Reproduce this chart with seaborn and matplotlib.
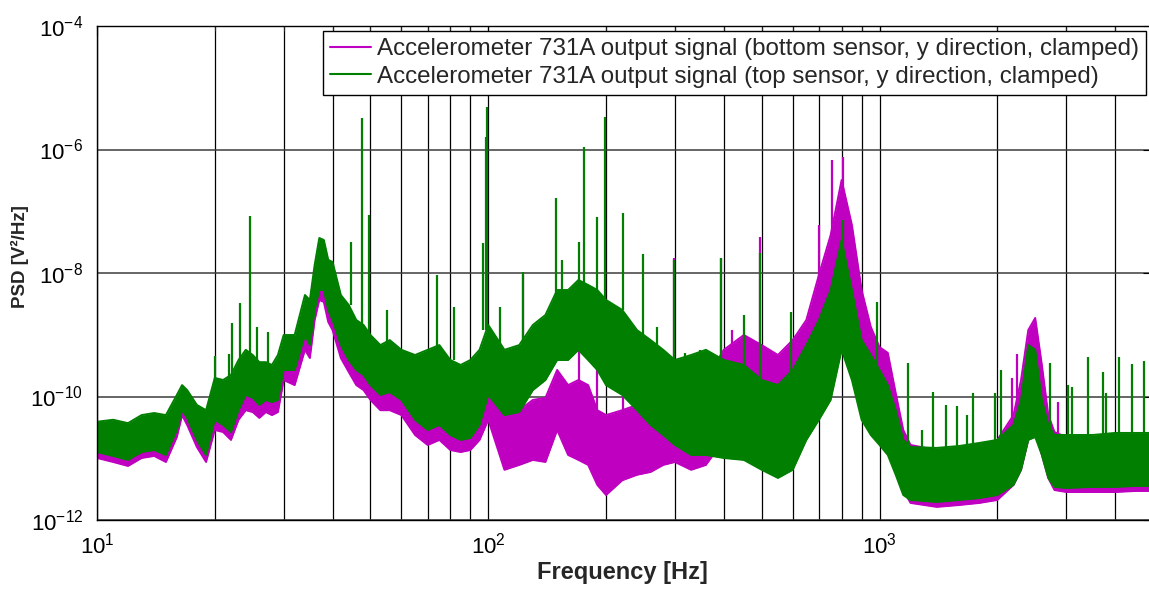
import numpy as np
import pandas as pd
import matplotlib
matplotlib.use("Agg")
import matplotlib.pyplot as plt
import seaborn as sns
from matplotlib.ticker import (FixedLocator, LogLocator, NullLocator,
                               NullFormatter, LogFormatterMathtext)
from matplotlib.lines import Line2D

# ---------------- data ----------------
FREQ = [10, 11, 12, 13, 14, 15, 16, 16.5, 17, 18, 19,
        20, 21, 22, 23, 24, 25, 26, 27, 28, 29, 30,
        32, 34, 35, 36, 37, 38, 39, 40,
        42, 44, 46, 48, 50,
        53, 56, 60, 65, 70, 75, 80, 85, 90, 95, 100,
        110, 120, 130, 140, 150, 160, 170, 180, 190, 200,
        220, 240, 260, 280, 300,
        330, 360, 400, 450, 500, 550, 600, 650, 700, 750, 800, 850, 900, 950, 1000,
        1050, 1100, 1150, 1200, 1400, 1600, 1800, 2000,
        2200, 2300, 2400, 2500, 2600, 2700, 2800,
        3000, 3500, 4000, 4500, 5000]

# top sensor (green): upper / lower edge of the noise band
GREEN_HI = [3.9e-11, 4.2e-11, 3.7e-11, 5.0e-11, 5.4e-11, 5.0e-11, 1.06e-10, 1.53e-10, 1.27e-10, 7.3e-11, 6.0e-11,
            2.0e-10, 1.85e-10, 2.23e-10, 3.9e-10, 5.7e-10, 4.7e-10, 3.6e-10, 3.6e-10, 3.24e-10, 4.7e-10, 9.9e-10,
            9.9e-10, 4.4e-9, 3.66e-9, 1.35e-8, 3.69e-8, 3.42e-8, 1.63e-8, 1.51e-8,
            4.4e-9, 3.03e-9, 1.73e-9, 1.44e-9, 9.9e-10,
            6.8e-10, 8.2e-10, 5.7e-10, 4.7e-10, 5.7e-10, 6.8e-10, 3.9e-10, 3.24e-10, 3.9e-10, 5.7e-10, 1.44e-9,
            5.7e-10, 6.8e-10, 1.44e-9, 2.09e-9, 5.3e-9, 5.3e-9, 7.7e-9, 6.4e-9, 5.3e-9, 3.66e-9,
            2.52e-9, 1.19e-9, 8.2e-10, 5.7e-10, 3.9e-10,
            4.7e-10, 5.7e-10, 3.9e-10, 3.24e-10, 1.85e-10, 1.53e-10, 2.69e-10, 6.8e-10, 1.73e-9, 5.3e-9,
            3.42e-8, 5.3e-9, 8.2e-10, 4.7e-10, 2.69e-10,
            1.53e-10, 6.0e-11, 1.98e-11, 1.52e-11, 1.47e-11, 1.58e-11, 1.77e-11, 1.98e-11,
            3.46e-11, 8.8e-11, 6.8e-10, 5.7e-10, 8.8e-11, 3.46e-11, 2.38e-11,
            2.38e-11, 2.38e-11, 2.57e-11, 2.57e-11, 2.57e-11]
GREEN_LO = [1.26e-11, 1.09e-11, 9.4e-12, 1.26e-11, 1.36e-11, 1.13e-11, 2.87e-11, 6.0e-11, 4.5e-11, 1.98e-11, 1.13e-11,
            4.2e-11, 3.46e-11, 2.66e-11, 6.0e-11, 1.06e-10, 9.5e-11, 7.3e-11, 8.8e-11, 8.1e-11, 8.8e-11, 2.69e-10,
            2.69e-10, 9.9e-10, 6.8e-10, 2.52e-9, 5.3e-9, 5.3e-9, 2.52e-9, 1.73e-9,
            6.8e-10, 3.9e-10, 2.69e-10, 2.23e-10, 1.53e-10,
            1.06e-10, 1.18e-10, 8.8e-11, 4.2e-11, 2.87e-11, 3.46e-11, 2.38e-11, 1.98e-11, 2.13e-11, 3.46e-11, 1.06e-10,
            5.0e-11, 5.6e-11, 1.27e-10, 1.85e-10, 3.9e-10, 3.9e-10, 5.7e-10, 3.9e-10, 2.69e-10, 1.53e-10,
            1.06e-10, 6.0e-11, 3.46e-11, 2.38e-11, 1.64e-11,
            1.13e-11, 1.13e-11, 1.01e-11, 9.4e-12, 6.5e-12, 4.8e-12, 6.5e-12, 1.98e-11, 4.2e-11, 8.8e-11,
            5.7e-10, 1.85e-10, 4.2e-11, 2.38e-11, 1.64e-11,
            1.13e-11, 5.4e-12, 2.54e-12, 2.11e-12, 1.96e-12, 2.11e-12, 2.27e-12, 2.54e-12,
            3.7e-12, 6.5e-12, 1.98e-11, 2.21e-11, 1.13e-11, 4.8e-12, 3.43e-12,
            3.3e-12, 3.43e-12, 3.43e-12, 3.56e-12, 3.56e-12]

# bottom sensor (magenta): upper / lower edge of the noise band
MAG_HI = [3.1e-11, 3.3e-11, 3.1e-11, 4.2e-11, 4.5e-11, 4.2e-11, 8.8e-11, 1.27e-10, 1.06e-10, 6.0e-11, 5.0e-11,
          1.53e-10, 1.37e-10, 1.72e-10, 2.9e-10, 3.9e-10, 3.6e-10, 2.69e-10, 2.69e-10, 2.49e-10, 3.24e-10, 6.8e-10,
          6.8e-10, 3.03e-9, 2.52e-9, 9.3e-9, 2.54e-8, 2.36e-8, 1.12e-8, 1.04e-8,
          3.03e-9, 2.09e-9, 1.19e-9, 9.9e-10, 6.8e-10,
          4.7e-10, 5.3e-10, 3.9e-10, 2.9e-10, 3.24e-10, 3.6e-10, 2.49e-10, 2.0e-10, 2.23e-10, 2.69e-10, 3.24e-10,
          5.0e-11, 6.0e-11, 8.8e-11, 9.5e-11, 2.69e-10, 1.53e-10, 1.85e-10, 1.53e-10, 6.0e-11, 5.0e-11,
          6.0e-11, 7.3e-11, 7.3e-11, 1.06e-10, 1.53e-10,
          1.53e-10, 1.85e-10, 5.7e-10, 9.9e-10, 6.8e-10, 4.7e-10, 8.2e-10, 1.73e-9, 9.3e-9, 4.1e-8,
          3.2e-7, 6.0e-8, 5.3e-9, 1.34e-9, 6.3e-10,
          5.1e-10, 1.14e-10, 2.87e-11, 1.64e-11, 1.36e-11, 1.47e-11, 1.64e-11, 1.98e-11,
          5.0e-11, 1.85e-10, 1.19e-9, 1.87e-9, 3.24e-10, 5.0e-11, 2.66e-11,
          2.21e-11, 2.21e-11, 2.3e-11, 2.3e-11, 2.3e-11]
MAG_LO = [1.01e-11, 8.7e-12, 7.5e-12, 1.01e-11, 1.09e-11, 8.7e-12, 2.21e-11, 5.0e-11, 3.46e-11, 1.52e-11, 8.7e-12,
          2.87e-11, 2.66e-11, 1.98e-11, 4.2e-11, 6.0e-11, 5.6e-11, 4.5e-11, 5.6e-11, 5.0e-11, 5.6e-11, 1.85e-10,
          1.53e-10, 5.7e-10, 4.2e-10, 1.73e-9, 3.66e-9, 3.39e-9, 1.61e-9, 1.19e-9,
          4.2e-10, 2.49e-10, 1.53e-10, 1.27e-10, 8.8e-11,
          6.0e-11, 6.0e-11, 5.0e-11, 2.38e-11, 1.64e-11, 1.98e-11, 1.36e-11, 1.26e-11, 1.36e-11, 1.98e-11, 4.2e-11,
          6.5e-12, 7.8e-12, 9.4e-12, 8.7e-12, 2.87e-11, 1.13e-11, 9.4e-12, 7.8e-12, 3.7e-12, 2.54e-12,
          4.4e-12, 5.4e-12, 6.0e-12, 7.8e-12, 8.7e-12,
          6.5e-12, 7.8e-12, 1.98e-11, 2.38e-11, 2.66e-11, 2.21e-11, 2.87e-11, 5.0e-11, 1.85e-10, 8.2e-10,
          5.3e-9, 1.19e-9, 1.53e-10, 5.0e-11, 2.87e-11,
          1.64e-11, 7.8e-12, 3.06e-12, 1.89e-12, 1.63e-12, 1.75e-12, 1.89e-12, 2.11e-12,
          3.7e-12, 6.5e-12, 1.98e-11, 2.87e-11, 1.13e-11, 4.8e-12, 3.06e-12,
          2.84e-12, 2.84e-12, 2.84e-12, 2.95e-12, 2.95e-12]

# narrow spectral lines (frequency, peak value, value of the band underneath)
GREEN_SPIKE_F = [20, 21.7, 22.1, 23.2, 24.6, 25.6, 27.4, 44.6, 47.6, 49.5, 55.1, 73.9, 81.7,
                 96.9, 98.6, 99.5, 107, 122.7, 149, 154, 171, 175.6, 189.6, 199, 220.8, 248, 270, 298,
                 318, 348, 394, 450, 496, 594, 805, 984, 1182, 1282, 1368, 1479, 1577, 1672, 1733,
                 1975, 2042, 2725, 3028, 3103, 3410, 3726, 3793, 4094, 4420, 4740]
GREEN_SPIKE_TOP = [4.5e-10, 4.9e-10, 1.55e-9, 3.27e-9, 8.4e-8, 1.34e-9, 1.11e-9, 3.18e-8, 3.24e-6, 8.7e-8,
                   2.52e-9, 9.3e-9, 2.81e-9, 3.06e-8, 1.59e-6, 4.88e-6, 2.81e-9, 1.04e-8, 1.64e-7, 1.63e-8,
                   3.18e-8, 1.10e-6, 8.1e-8, 3.36e-6, 9.4e-8, 2.03e-8, 1.34e-9, 1.63e-8, 5.1e-10, 5.7e-10,
                   1.75e-8, 2.09e-9, 2.11e-8, 2.34e-9, 7.2e-8, 3.39e-9, 3.5e-10, 2.87e-11, 1.18e-10, 7.3e-11,
                   7.0e-11, 5.0e-11, 1.14e-10, 1.14e-10, 2.69e-10, 3.5e-10, 1.53e-10, 1.43e-10, 4.4e-10,
                   2.49e-10, 1.14e-10, 4.4e-10, 3.36e-10, 3.76e-10]
GREEN_SPIKE_BASE = [1.53e-10, 1.85e-10, 1.85e-10, 3.24e-10, 4.7e-10, 3.9e-10, 3.24e-10, 3.03e-9, 1.44e-9,
                    9.9e-10, 6.8e-10, 5.7e-10, 3.9e-10, 1.19e-9, 1.19e-9, 1.19e-9, 6.8e-10, 6.8e-10, 3.66e-9,
                    4.4e-9, 6.4e-9, 6.4e-9, 5.3e-9, 3.66e-9, 2.52e-9, 9.9e-10, 6.8e-10, 3.9e-10, 3.24e-10,
                    3.9e-10, 3.9e-10, 2.69e-10, 1.85e-10, 2.23e-10, 3.66e-9, 2.69e-10, 1.36e-11, 1.36e-11,
                    1.36e-11, 1.36e-11, 1.36e-11, 1.36e-11, 1.47e-11, 1.64e-11, 1.98e-11, 2.87e-11, 2.21e-11,
                    2.21e-11, 2.21e-11, 2.21e-11, 2.21e-11, 2.21e-11, 2.21e-11, 2.21e-11]

MAG_SPIKE_F = [122.7, 171, 189.6, 220.8, 298, 394, 420, 496, 700, 755, 805, 2178, 2244, 2859]
MAG_SPIKE_TOP = [9.3e-9, 5.7e-10, 6.3e-10, 4.4e-10, 1.75e-8, 1.75e-8, 1.19e-9, 3.83e-8, 6.0e-8, 6.8e-7,
                 7.6e-7, 2.0e-10, 4.9e-10, 8.1e-11]
MAG_SPIKE_BASE = [4.2e-11, 4.2e-11, 4.2e-11, 4.2e-11, 8.8e-11, 1.85e-10, 1.85e-10, 3.9e-10, 3.66e-9,
                  1.63e-8, 1.52e-7, 2.87e-11, 2.87e-11, 1.98e-11]

LABELS = ["Accelerometer 731A output signal (bottom sensor, y direction, clamped)",
          "Accelerometer 731A output signal (top sensor, y direction, clamped)"]
X_TICKS = [10, 100, 1000]
Y_TICKS = [1e-12, 1e-10, 1e-8, 1e-6, 1e-4]

MAGENTA = "#C000C0"
GREEN = "#007F00"

# ---------------- style ----------------
sns.set_style("white")
plt.rcParams["font.family"] = ["Liberation Sans", "DejaVu Sans"]
plt.rcParams["mathtext.default"] = "regular"
plt.rcParams["axes.unicode_minus"] = False

W, H = 1149, 592
fig = plt.figure(figsize=(W / 100, H / 100), dpi=100)
ax = fig.add_axes([97 / W, 72 / H, 1056 / W, 494 / H])
ax.set_xscale("log")
ax.set_yscale("log")

df = pd.DataFrame({"freq": FREQ, "g_hi": GREEN_HI, "g_lo": GREEN_LO,
                   "m_hi": MAG_HI, "m_lo": MAG_LO})

series = [("m_hi", "m_lo", MAGENTA, MAG_SPIKE_F, MAG_SPIKE_TOP, MAG_SPIKE_BASE),
          ("g_hi", "g_lo", GREEN, GREEN_SPIKE_F, GREEN_SPIKE_TOP, GREEN_SPIKE_BASE)]
for hi, lo, col, sf, st, sb in series:
    ax.fill_between(df["freq"], df[lo], df[hi], color=col, lw=0, zorder=2)
    sns.lineplot(data=df, x="freq", y=hi, color=col, lw=1.4, ax=ax,
                 estimator=None, legend=False, zorder=2)
    sns.lineplot(data=df, x="freq", y=lo, color=col, lw=1.4, ax=ax,
                 estimator=None, legend=False, zorder=2)
    ax.vlines(sf, sb, st, color=col, lw=1.6, zorder=2)

ax.set_xlim(10, 5000)
ax.set_ylim(1e-12, 1e-4)

ax.xaxis.set_major_locator(FixedLocator(X_TICKS))
ax.xaxis.set_minor_locator(LogLocator(base=10, subs=np.arange(2, 10)))
ax.xaxis.set_minor_formatter(NullFormatter())
ax.xaxis.set_major_formatter(LogFormatterMathtext())
ax.yaxis.set_major_locator(FixedLocator(Y_TICKS))
ax.yaxis.set_minor_locator(NullLocator())
ax.yaxis.set_major_formatter(LogFormatterMathtext())

ax.tick_params(which="major", direction="in", length=7, width=0.8, top=True, right=True,
               labelsize=16, colors="black")
ax.tick_params(axis="x", which="major", pad=9)
ax.tick_params(axis="y", which="major", pad=10)
ax.tick_params(which="minor", direction="in", length=3.5, width=0.8, top=True, right=True)

ax.set_axisbelow(True)
ax.grid(True, which="both", axis="x", color="black", lw=0.9)
ax.grid(True, which="major", axis="y", color="#3c3c3c", lw=1.1)
for sp in ax.spines.values():
    sp.set_color("black")
    sp.set_linewidth(1.0)

ax.set_xlabel("Frequency [Hz]", fontsize=17, fontweight="bold")
ax.xaxis.set_label_coords(0.498, -0.084)
ax.set_ylabel("PSD [V²/Hz]", fontsize=13.5, fontweight="bold")
ax.yaxis.set_label_coords(-0.064, 0.534)

handles = [Line2D([], [], color=MAGENTA, lw=1.5), Line2D([], [], color=GREEN, lw=1.5)]
leg = ax.legend(handles, LABELS, loc="upper right",
                bbox_to_anchor=(1146 / W, 1 - 31 / H), bbox_transform=fig.transFigure,
                borderaxespad=0, fontsize=17.4, frameon=True, fancybox=False,
                edgecolor="black", framealpha=1, handlelength=1.7, handletextpad=0.22,
                borderpad=0.3, labelspacing=0.22)
leg.get_frame().set_linewidth(1.0)
leg.set_zorder(10)

fig.savefig("out.png", dpi=100)
